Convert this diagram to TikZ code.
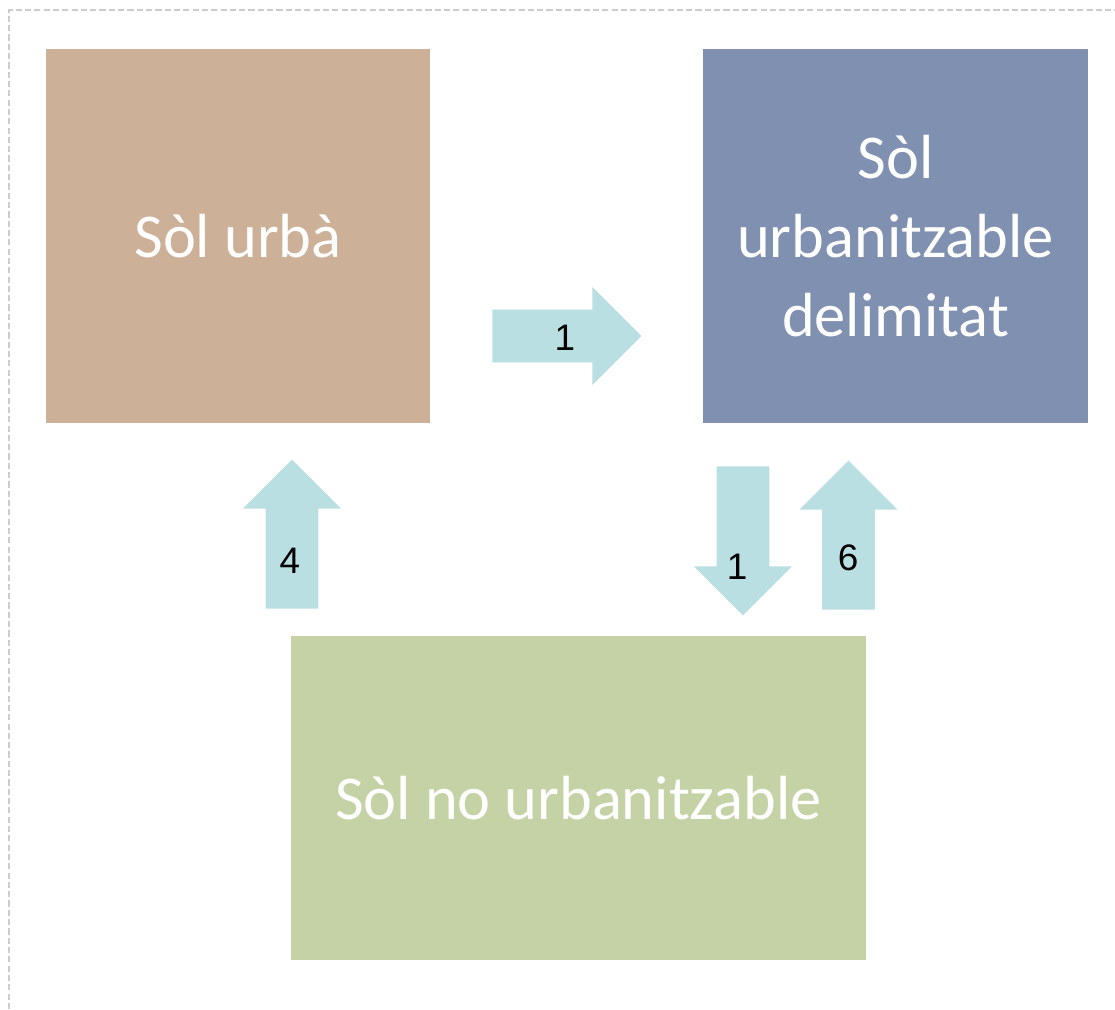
\documentclass[tikz,border=0pt]{standalone}
\usepackage{fontspec}
\setmainfont{Carlito}
\newfontfamily\numfont{Liberation Sans}
\usetikzlibrary{shapes.arrows}
\definecolor{urbacol}{HTML}{CCB098}
\definecolor{delimcol}{HTML}{8090B0}
\definecolor{nourbcol}{HTML}{C5D2A6}
\definecolor{arrowcol}{HTML}{BADFE2}
\tikzset{
    zone/.style={fill=#1, text=white, align=center, inner sep=0,
        font=\fontsize{35.5}{45}\selectfont},
    blockarrow/.style={single arrow, fill=arrowcol, inner sep=0.285cm,
        minimum height=2.98cm, minimum width=1.96cm,
        shape border rotate=#1, anchor=tail},
    count/.style={font=\numfont\fontsize{21}{24}\selectfont}
}
\begin{document}
\begin{tikzpicture}[x=0.02cm,y=-0.02cm]
        \useasboundingbox (0,0) rectangle (1115,1009);
        \draw[line width=1.2pt, color=black!20, dash pattern=on 3.5pt off 1.8pt] (9,1009) -- (9,10) -- (1115,10);
        \node[zone=urbacol, minimum width=7.68cm, minimum height=7.48cm] (urba) at (238,236) {Sòl urbà};
        \node[zone=delimcol, minimum width=7.7cm, minimum height=7.48cm] (delim) at (895.5,236) {Sòl\\urbanitzable\\delimitat};
        \node[zone=nourbcol, minimum width=11.5cm, minimum height=6.48cm] (nourb) at (578.5,798) {Sòl no urbanitzable};
        \node[blockarrow=0] (urbatodelim) at (492,336) {};
        \node[blockarrow=90] (nourbtourba) at (292,609) {};
        \node[blockarrow=270] (delimtonourb) at (743,466) {};
        \node[blockarrow=90] (nourbtodelim) at (848.5,610) {};
        \node[count] (n1) at (565,338) {1};
        \node[count] (n4) at (290,561) {4};
        \node[count] (n1b) at (737,567) {1};
        \node[count] (n6) at (848,558) {6};
    \end{tikzpicture}
\end{document}
